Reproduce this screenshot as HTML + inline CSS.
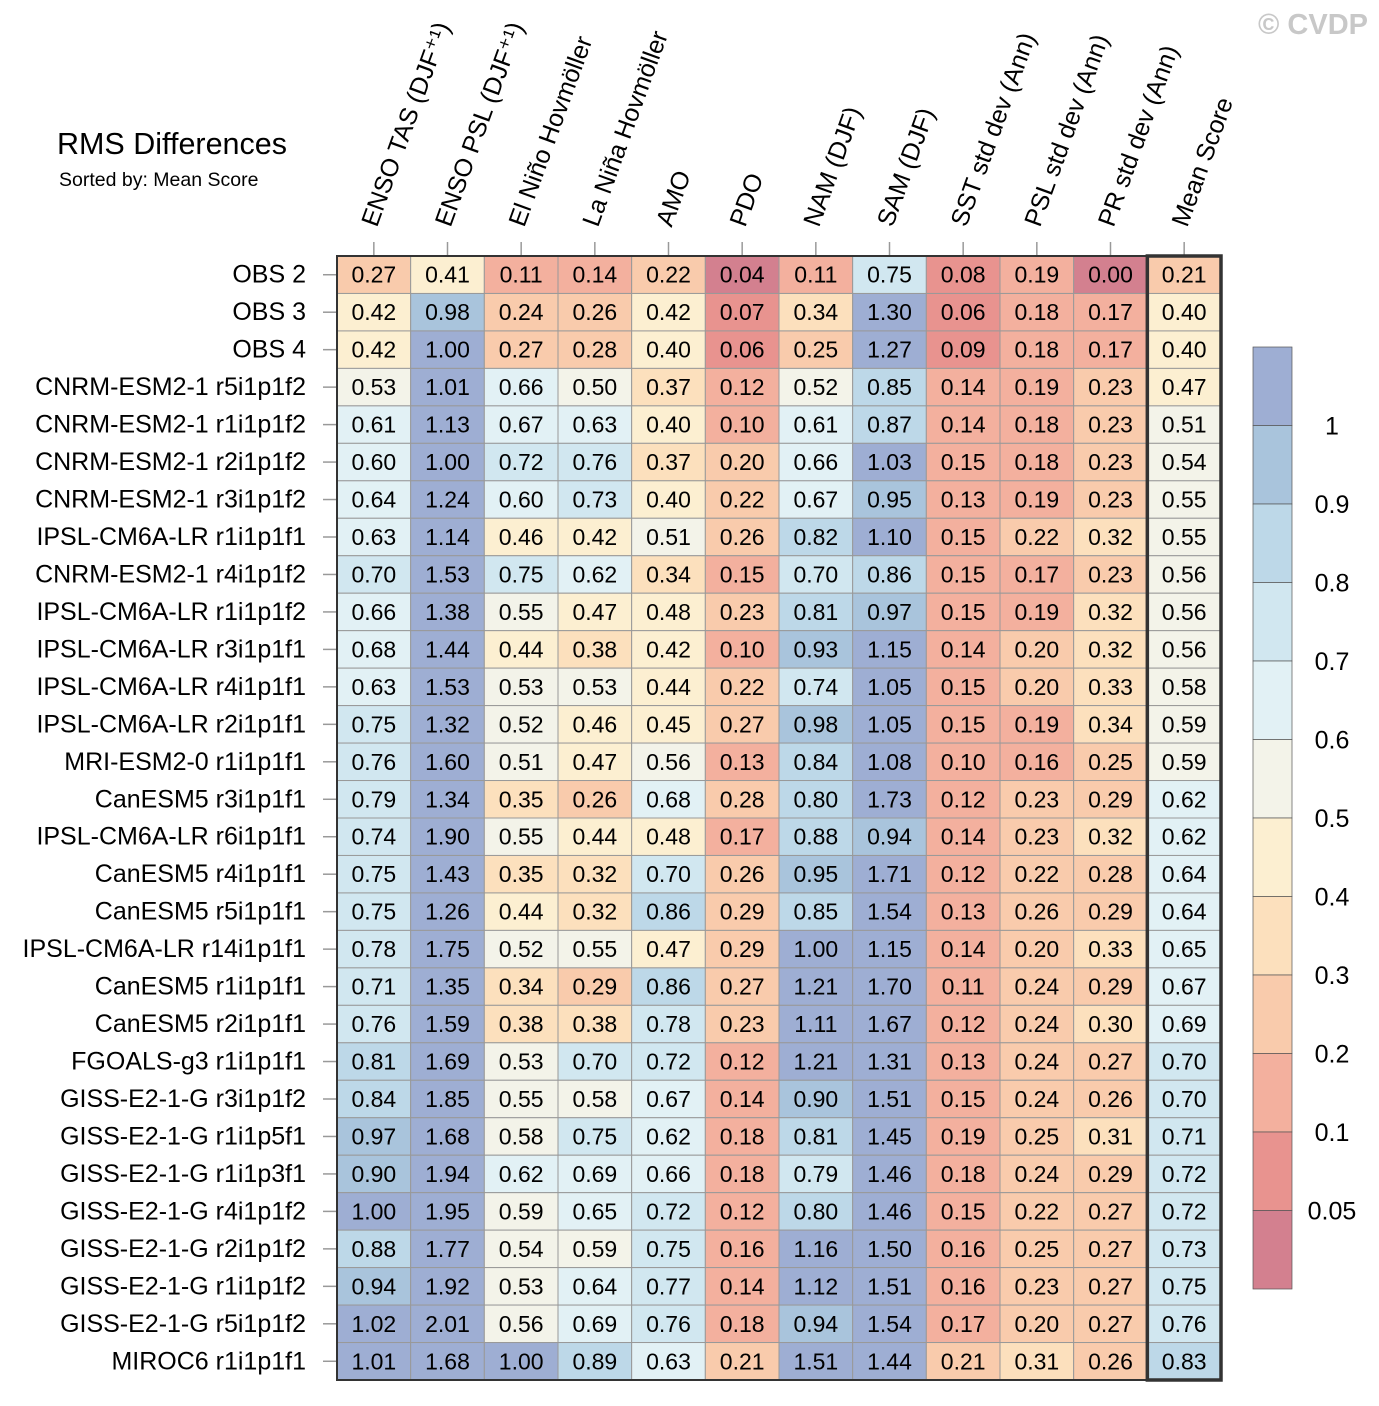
<!DOCTYPE html>
<html><head><meta charset="utf-8"><style>
body{margin:0;background:#fff}
svg text{font-family:"Liberation Sans",Arial,sans-serif}
</style></head><body>
<svg id="chart" width="1379" height="1401" xmlns="http://www.w3.org/2000/svg">
<text x="1368" y="34" text-anchor="end" font-size="29" font-weight="bold" fill="#c8c8c8">© CVDP</text>
<text x="57" y="154" font-size="30.5" fill="#000">RMS Differences</text>
<text x="59" y="186" font-size="19.5" fill="#000">Sorted by: Mean Score</text>
<g id="cells"></g><g id="labels"></g><g id="cbar"></g>
</svg>
<script>
const metrics=["ENSO TAS (DJF⁺¹)","ENSO PSL (DJF⁺¹)","El Niño Hovmöller","La Niña Hovmöller","AMO","PDO","NAM (DJF)","SAM (DJF)","SST std dev (Ann)","PSL std dev (Ann)","PR std dev (Ann)","Mean Score"];
const runs=["OBS 2","OBS 3","OBS 4","CNRM-ESM2-1 r5i1p1f2","CNRM-ESM2-1 r1i1p1f2","CNRM-ESM2-1 r2i1p1f2","CNRM-ESM2-1 r3i1p1f2","IPSL-CM6A-LR r1i1p1f1","CNRM-ESM2-1 r4i1p1f2","IPSL-CM6A-LR r1i1p1f2","IPSL-CM6A-LR r3i1p1f1","IPSL-CM6A-LR r4i1p1f1","IPSL-CM6A-LR r2i1p1f1","MRI-ESM2-0 r1i1p1f1","CanESM5 r3i1p1f1","IPSL-CM6A-LR r6i1p1f1","CanESM5 r4i1p1f1","CanESM5 r5i1p1f1","IPSL-CM6A-LR r14i1p1f1","CanESM5 r1i1p1f1","CanESM5 r2i1p1f1","FGOALS-g3 r1i1p1f1","GISS-E2-1-G r3i1p1f2","GISS-E2-1-G r1i1p5f1","GISS-E2-1-G r1i1p3f1","GISS-E2-1-G r4i1p1f2","GISS-E2-1-G r2i1p1f2","GISS-E2-1-G r1i1p1f2","GISS-E2-1-G r5i1p1f2","MIROC6 r1i1p1f1"];
const values=[
[0.27,0.41,0.11,0.14,0.22,0.04,0.11,0.75,0.08,0.19,0.00,0.21],
[0.42,0.98,0.24,0.26,0.42,0.07,0.34,1.30,0.06,0.18,0.17,0.40],
[0.42,1.00,0.27,0.28,0.40,0.06,0.25,1.27,0.09,0.18,0.17,0.40],
[0.53,1.01,0.66,0.50,0.37,0.12,0.52,0.85,0.14,0.19,0.23,0.47],
[0.61,1.13,0.67,0.63,0.40,0.10,0.61,0.87,0.14,0.18,0.23,0.51],
[0.60,1.00,0.72,0.76,0.37,0.20,0.66,1.03,0.15,0.18,0.23,0.54],
[0.64,1.24,0.60,0.73,0.40,0.22,0.67,0.95,0.13,0.19,0.23,0.55],
[0.63,1.14,0.46,0.42,0.51,0.26,0.82,1.10,0.15,0.22,0.32,0.55],
[0.70,1.53,0.75,0.62,0.34,0.15,0.70,0.86,0.15,0.17,0.23,0.56],
[0.66,1.38,0.55,0.47,0.48,0.23,0.81,0.97,0.15,0.19,0.32,0.56],
[0.68,1.44,0.44,0.38,0.42,0.10,0.93,1.15,0.14,0.20,0.32,0.56],
[0.63,1.53,0.53,0.53,0.44,0.22,0.74,1.05,0.15,0.20,0.33,0.58],
[0.75,1.32,0.52,0.46,0.45,0.27,0.98,1.05,0.15,0.19,0.34,0.59],
[0.76,1.60,0.51,0.47,0.56,0.13,0.84,1.08,0.10,0.16,0.25,0.59],
[0.79,1.34,0.35,0.26,0.68,0.28,0.80,1.73,0.12,0.23,0.29,0.62],
[0.74,1.90,0.55,0.44,0.48,0.17,0.88,0.94,0.14,0.23,0.32,0.62],
[0.75,1.43,0.35,0.32,0.70,0.26,0.95,1.71,0.12,0.22,0.28,0.64],
[0.75,1.26,0.44,0.32,0.86,0.29,0.85,1.54,0.13,0.26,0.29,0.64],
[0.78,1.75,0.52,0.55,0.47,0.29,1.00,1.15,0.14,0.20,0.33,0.65],
[0.71,1.35,0.34,0.29,0.86,0.27,1.21,1.70,0.11,0.24,0.29,0.67],
[0.76,1.59,0.38,0.38,0.78,0.23,1.11,1.67,0.12,0.24,0.30,0.69],
[0.81,1.69,0.53,0.70,0.72,0.12,1.21,1.31,0.13,0.24,0.27,0.70],
[0.84,1.85,0.55,0.58,0.67,0.14,0.90,1.51,0.15,0.24,0.26,0.70],
[0.97,1.68,0.58,0.75,0.62,0.18,0.81,1.45,0.19,0.25,0.31,0.71],
[0.90,1.94,0.62,0.69,0.66,0.18,0.79,1.46,0.18,0.24,0.29,0.72],
[1.00,1.95,0.59,0.65,0.72,0.12,0.80,1.46,0.15,0.22,0.27,0.72],
[0.88,1.77,0.54,0.59,0.75,0.16,1.16,1.50,0.16,0.25,0.27,0.73],
[0.94,1.92,0.53,0.64,0.77,0.14,1.12,1.51,0.16,0.23,0.27,0.75],
[1.02,2.01,0.56,0.69,0.76,0.18,0.94,1.54,0.17,0.20,0.27,0.76],
[1.01,1.68,1.00,0.89,0.63,0.21,1.51,1.44,0.21,0.31,0.26,0.83]];
const levels=[0.05,0.1,0.2,0.3,0.4,0.5,0.6,0.7,0.8,0.9,1];
const levelLabels=["0.05","0.1","0.2","0.3","0.4","0.5","0.6","0.7","0.8","0.9","1"];
const colors=["#d3808f","#e8938f","#f3b09e","#f9cbac","#fce0bd","#fcefd1","#f3f3e9","#e2f1f5","#d1e7f0","#bdd8e8","#a9c4dc","#9eaed3"];
const NS="http://www.w3.org/2000/svg";
const X0=337,Y0=256,CW=(1221-337)/12,RH=(1380-256)/runs.length;
function colX(i){return X0+i*CW}
function rowY(j){return Y0+j*RH}
function colorOf(v){let k=0;while(k<levels.length&&v>=levels[k]-1e-9)k++;return colors[k]}
function mk(tag,attrs,parent,txt){const e=document.createElementNS(NS,tag);for(const a in attrs)e.setAttribute(a,attrs[a]);if(txt!==undefined)e.textContent=txt;parent.appendChild(e);return e}
const cells=document.getElementById('cells'),labels=document.getElementById('labels'),cbar=document.getElementById('cbar');
values.forEach((row,j)=>{row.forEach((v,i)=>{
 const r=mk('rect',{x:colX(i),y:rowY(j),width:CW,height:RH,fill:colorOf(v),stroke:'#999','stroke-width':1},cells);
 
 
 const t=mk('text',{x:colX(i)+CW/2,y:rowY(j)+RH/2+8,'text-anchor':'middle','font-size':23},cells,v.toFixed(2));
 
 
});});
runs.forEach((n,j)=>{
 const y=rowY(j)+RH/2;
 mk('line',{x1:X0-14,x2:X0,y1:y,y2:y,stroke:'#999','stroke-width':1.5},labels);
 const t=mk('text',{x:306,y:y+8,'text-anchor':'end','font-size':25},labels,n);
 
 
});
metrics.forEach((m,i)=>{
 const x=colX(i)+CW/2;
 mk('line',{x1:x,x2:x,y1:Y0-14,y2:Y0,stroke:'#999','stroke-width':1.5},labels);
 const t=mk('text',{x:x+3,y:228,'font-size':25,transform:`rotate(-70 ${x+3} 228)`},labels,m);
 
 
});
const outer=mk('rect',{x:X0,y:Y0,width:CW*12,height:RH*runs.length,fill:'none',stroke:'#333','stroke-width':2},labels);


const mb=mk('rect',{x:colX(11),y:Y0,width:CW,height:RH*runs.length,fill:'none',stroke:'#333','stroke-width':3.5},labels);


const CB0=347,CB1=1289,BH=(CB1-CB0)/12;
colors.slice().reverse().forEach((c,k)=>{
 const r=mk('rect',{x:1253,y:CB0+k*BH,width:39,height:BH,fill:c,stroke:'#555','stroke-width':0.7},cbar);
 
 
});
levelLabels.slice().reverse().forEach((l,k)=>{
 const t=mk('text',{x:1332,y:CB0+(k+1)*BH+9,'text-anchor':'middle','font-size':25},cbar,l);
 
 
});
</script>
</body></html>
